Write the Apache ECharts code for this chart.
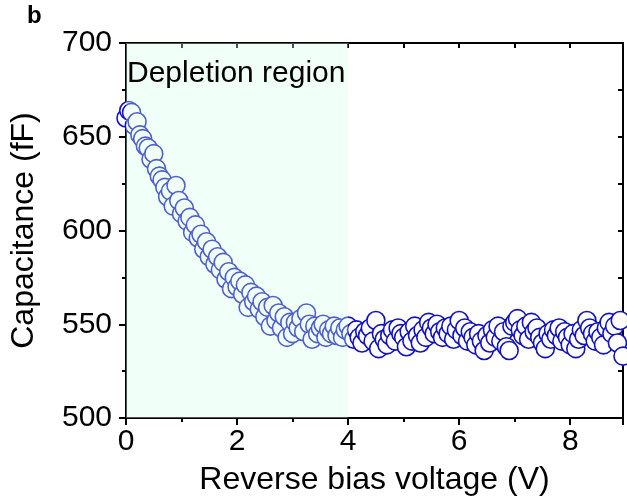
<!DOCTYPE html>
<html>
<head>
<meta charset="utf-8">
<script src="https://cdn.jsdelivr.net/npm/echarts@6/dist/echarts.min.js"></script>
<style>
  html, body { margin: 0; padding: 0; background: #fff; }
  #chart { width: 627px; height: 501px; }
</style>
</head>
<body>
<div id="chart"></div>
<script>
// reverse bias sweep (one row = 1 V)
const voltage = [
  0.00, 0.05, 0.10, 0.15, 0.20, 0.25, 0.30, 0.35, 0.40, 0.45, 0.50, 0.55, 0.60, 0.65, 0.70, 0.75, 0.80, 0.85, 0.90, 0.95,
  1.00, 1.05, 1.10, 1.15, 1.20, 1.25, 1.30, 1.35, 1.40, 1.45, 1.50, 1.55, 1.60, 1.65, 1.70, 1.75, 1.80, 1.85, 1.90, 1.95,
  2.00, 2.05, 2.10, 2.15, 2.20, 2.25, 2.30, 2.35, 2.40, 2.45, 2.50, 2.55, 2.60, 2.65, 2.70, 2.75, 2.80, 2.85, 2.90, 2.95,
  3.00, 3.05, 3.10, 3.15, 3.20, 3.25, 3.30, 3.35, 3.40, 3.45, 3.50, 3.55, 3.60, 3.65, 3.70, 3.75, 3.80, 3.85, 3.90, 3.95,
  4.00, 4.05, 4.10, 4.15, 4.20, 4.25, 4.30, 4.35, 4.40, 4.45, 4.50, 4.55, 4.60, 4.65, 4.70, 4.75, 4.80, 4.85, 4.90, 4.95,
  5.00, 5.05, 5.10, 5.15, 5.20, 5.25, 5.30, 5.35, 5.40, 5.45, 5.50, 5.55, 5.60, 5.65, 5.70, 5.75, 5.80, 5.85, 5.90, 5.95,
  6.00, 6.05, 6.10, 6.15, 6.20, 6.25, 6.30, 6.35, 6.40, 6.45, 6.50, 6.55, 6.60, 6.65, 6.70, 6.75, 6.80, 6.85, 6.90, 6.95,
  7.00, 7.05, 7.10, 7.15, 7.20, 7.25, 7.30, 7.35, 7.40, 7.45, 7.50, 7.55, 7.60, 7.65, 7.70, 7.75, 7.80, 7.85, 7.90, 7.95,
  8.00, 8.05, 8.10, 8.15, 8.20, 8.25, 8.30, 8.35, 8.40, 8.45, 8.50, 8.55, 8.60, 8.65, 8.70, 8.75, 8.80, 8.85, 8.90, 8.95
];
const capacitance = [
  660, 664, 663, 656, 658, 651, 649, 645, 644, 638, 641, 633, 629, 627, 623, 618, 621, 613, 624, 616,
  609, 612, 605, 607, 599, 603, 596, 598, 590, 594, 586, 590, 582, 586, 579, 583, 574, 578, 569, 575,
  570, 573, 566, 571, 559, 567, 562, 565, 558, 562, 554, 559, 549, 560, 552, 556, 548, 554, 543, 551,
  545, 551, 548, 553, 546, 556, 550, 542, 549, 545, 548, 550, 543, 547, 545, 549, 544, 548, 543, 547,
  549, 545, 542, 547, 543, 540, 546, 544, 548, 541, 552, 537, 545, 542, 539, 544, 547, 541, 548, 545,
  543, 538, 546, 541, 549, 544, 540, 547, 543, 551, 548, 545, 550, 546, 543, 548, 545, 549, 542, 547,
  552, 544, 548, 541, 546, 543, 539, 545, 541, 536, 544, 540, 547, 543, 549, 541, 546, 538, 536, 549,
  551, 553, 547, 544, 549, 542, 551, 546, 548, 543, 540, 537, 545, 542, 547, 544, 548, 541, 546, 543,
  539, 545, 537, 542, 547, 544, 552, 548, 545, 541, 546, 543, 539, 548, 551, 545, 549, 540, 552, 533
];
const xTicks = [0, 2, 4, 6, 8];
const regionLabel = 'Depletion region';
const depletion = [[0, 4]];
const yMin = 500, yMax = 700;

const points = voltage.map((v, i) => [v, capacitance[i]]);

const chart = echarts.init(document.getElementById('chart'));
const font = 'Liberation Sans, Arial, sans-serif';
const black = { color: '#000', width: 2 };

chart.setOption({
  backgroundColor: '#fff',
  animation: false,
  grid: { left: 125, right: 4, top: 43, bottom: 83 },
  xAxis: [
    {
      type: 'value', min: 0, max: 8.95, interval: 2,
      axisLine: { lineStyle: black },
      axisTick: { length: 7, lineStyle: black },
      minorTick: { show: true, splitNumber: 2, length: 4, lineStyle: { color: '#000', width: 2 } },
      splitLine: { show: false },
      axisLabel: {
        margin: 9, fontSize: 30, fontFamily: font, color: '#000',
        formatter: v => (xTicks.indexOf(v) >= 0 ? String(v) : '')
      },
      name: 'Reverse bias voltage (V)', nameLocation: 'middle', nameGap: 46,
      nameTextStyle: { fontSize: 32, fontFamily: font, color: '#000' }
    },
    {
      type: 'value', position: 'top', min: 0, max: 8.95, interval: 1,
      axisLine: { onZero: false, lineStyle: black },
      axisTick: { inside: true, length: 5, lineStyle: black },
      axisLabel: { show: false }, splitLine: { show: false }
    }
  ],
  yAxis: [
    {
      type: 'value', min: yMin, max: yMax, interval: 50,
      axisLine: { show: true, lineStyle: black },
      axisTick: { show: true, length: 7, lineStyle: black },
      minorTick: { show: true, splitNumber: 2, length: 4, lineStyle: { color: '#000', width: 2 } },
      splitLine: { show: false },
      axisLabel: { margin: 14, fontSize: 30, fontFamily: font, color: '#000' },
      name: 'Capacitance (fF)', nameLocation: 'middle', nameGap: 86,
      nameTextStyle: { fontSize: 32, fontFamily: font, color: '#000' }
    },
    {
      type: 'value', position: 'right', min: yMin, max: yMax, interval: 25,
      axisLine: { show: true, onZero: false, lineStyle: black },
      axisTick: { show: true, inside: true, length: 5, lineStyle: black },
      axisLabel: { show: false }, splitLine: { show: false }
    }
  ],
  series: [
    {
      type: 'scatter',
      data: points,
      symbol: 'circle',
      symbolSize: 18,
      z: 2,
      itemStyle: { color: '#fff', borderColor: '#1212c0', borderWidth: 1.6, opacity: 1 }
    },
    {
      // translucent shading laid over the circles, like the original
      type: 'custom',
      data: depletion,
      z: 5,
      silent: true,
      encode: { x: [0, 1] },
      renderItem: function (params, api) {
        const p0 = api.coord([api.value(0), yMax]);
        const p1 = api.coord([api.value(1), yMin]);
        return {
          type: 'rect',
          shape: { x: p0[0], y: p0[1], width: p1[0] - p0[0], height: p1[1] - p0[1] },
          style: { fill: 'rgba(210,255,230,0.33)' }
        };
      }
    }
  ],
  graphic: [
    {
      type: 'text', left: 27, top: 4, z: 10,
      style: { text: 'b', fontSize: 24, fontWeight: 'bold', fontFamily: font, fill: '#000' }
    },
    {
      type: 'text', left: 127, top: 59, z: 10,
      style: { text: regionLabel, fontSize: 30, fontFamily: font, fill: '#000' }
    }
  ]
});

window.addEventListener('resize', function () {
  chart.resize();
});
</script>
</body>
</html>
